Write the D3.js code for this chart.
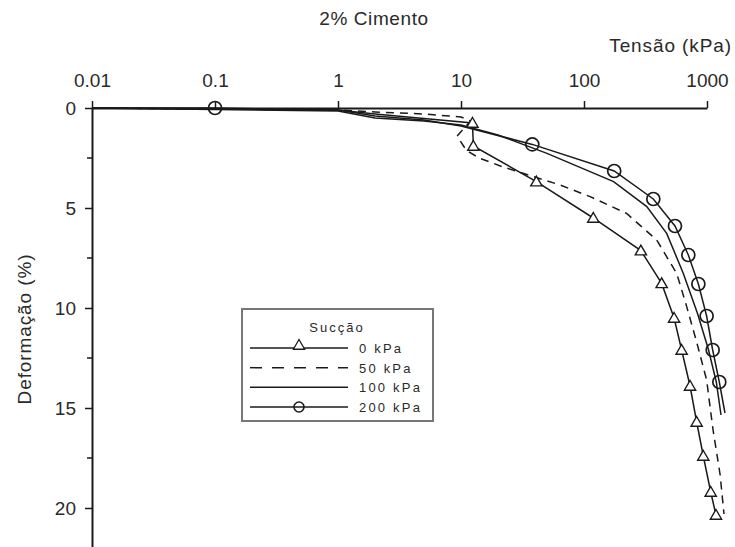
<!DOCTYPE html>
<html>
<head>
<meta charset="utf-8">
<script src="https://cdn.jsdelivr.net/npm/d3@7"></script>
<style>
  body { margin: 0; background: #fff; }
  svg { display: block; font-family: "Liberation Sans", Arial, sans-serif; }
</style>
</head>
<body>
<svg id="chart" width="735" height="547"></svg>
<script>
// tensão (kPa), deformação (%)
const s0 = [[0.01, 0], [1, 0.1], [2, 0.3], [12.4, 0.75], [12.6, 1.9], [41, 3.68], [119, 5.5], [290, 7.13],
  [428, 8.77], [540, 10.5], [622, 12.1], [728, 13.9], [824, 15.7], [933, 17.4], [1072, 19.2], [1183, 20.35]];
const s50 = [[0.01, 0], [1, 0.1], [2, 0.2], [5, 0.3], [10, 0.45], [12, 0.65], [9.3, 1.4], [11, 2.1], [14, 2.5],
  [22, 2.95], [64, 3.85], [112, 4.43], [222, 5.27], [390, 6.6], [567, 8.27], [684, 9.93], [824, 11.7],
  [993, 13.6], [1120, 16.1], [1276, 18.3], [1375, 20.3]];
const s100 = [[0.01, 0], [1, 0.15], [2, 0.5], [5, 0.65], [10, 0.85], [20, 1.35], [50, 2.27], [174, 3.68],
  [324, 4.93], [470, 6.27], [642, 8.27], [840, 10.3], [1030, 12.1], [1190, 13.7], [1300, 15.35]];
const s200 = [[0.01, 0], [0.1, 0], [1, 0.1], [2, 0.4], [5, 0.6], [10, 0.9], [38, 1.82], [176, 3.15],
  [366, 4.55], [549, 5.9], [705, 7.35], [851, 8.8], [993, 10.4], [1112, 12.1], [1259, 13.7], [1400, 15.25]];

// points without a visible marker
const noMark0 = [0, 1, 2];
const noMark200 = [0, 2, 3, 4, 5, 15];

const xTicks = [0.01, 0.1, 1, 10, 100, 1000];
const xTickLabels = ["0.01", "0.1", "1", "10", "100", "1000"];
const yTicks = [0, 5, 10, 15, 20];
const yMinor = [2.5, 7.5, 12.5, 17.5];
const legendNames = ["0 kPa", "50 kPa", "100 kPa", "200 kPa"];

const svg = d3.select("#chart");
const ink = "#1a1a1a";
const textCol = "#2a2a2a";
const font = "Liberation Sans, Arial, sans-serif";

const x = d3.scaleLog().domain([0.01, 1000]).range([92, 707]);
const y = d3.scaleLinear().domain([0, 22]).range([108, 548]);

// title and axis labels
svg.append("text").attr("x", 374).attr("y", 25).attr("text-anchor", "middle")
  .attr("font-size", 19).attr("letter-spacing", 0.6).attr("fill", textCol).text("2% Cimento");
svg.append("text").attr("x", 732).attr("y", 52).attr("text-anchor", "end")
  .attr("font-size", 19).attr("letter-spacing", 0.9).attr("fill", textCol).text("Tensão (kPa)");
svg.append("text").attr("transform", "translate(31,329) rotate(-90)").attr("text-anchor", "middle")
  .attr("font-size", 19).attr("letter-spacing", 0.9).attr("fill", textCol).text("Deformação (%)");

// x axis on top
const xAxis = svg.append("g").attr("transform", `translate(0,${y(0)})`)
  .call(d3.axisTop(x).tickValues(xTicks).tickFormat((d, i) => xTickLabels[i]).tickSize(7).tickSizeOuter(0));
xAxis.select(".domain").attr("stroke", ink).attr("stroke-width", 2);
xAxis.selectAll(".tick line").attr("stroke", ink).attr("stroke-width", 1.5);
xAxis.selectAll(".tick text").attr("font-size", 19).attr("fill", textCol)
  .attr("y", -21).attr("dy", 0).attr("font-family", font);

// y axis
const yAxis = svg.append("g").attr("transform", `translate(${x(0.01)},0)`)
  .call(d3.axisLeft(y).tickValues(yTicks).tickSize(7).tickSizeOuter(0).tickPadding(9));
yAxis.select(".domain").attr("stroke", ink).attr("stroke-width", 2);
yAxis.selectAll(".tick line").attr("stroke", ink).attr("stroke-width", 1.5);
yAxis.selectAll(".tick text").attr("font-size", 19).attr("fill", textCol).attr("font-family", font);
yAxis.selectAll(".minor").data(yMinor).enter().append("line")
  .attr("x1", -5).attr("x2", 0).attr("y1", d => y(d)).attr("y2", d => y(d))
  .attr("stroke", ink).attr("stroke-width", 1.5);

const line = d3.line().x(d => x(d[0])).y(d => y(d[1]));
const plot = svg.append("g");

function drawLine(data, dash) {
  plot.append("path").datum(data).attr("d", line).attr("fill", "none")
    .attr("stroke", ink).attr("stroke-width", 1.5)
    .attr("stroke-dasharray", dash || null);
}
drawLine(s100);
drawLine(s50, "8,6");
drawLine(s200);
drawLine(s0);

const tri = d3.symbol().type(d3.symbolTriangle).size(55);

function triangles(g, data) {
  g.selectAll(null).data(data).enter().append("path")
    .attr("d", tri)
    .attr("transform", d => `translate(${x(d[0])},${y(d[1]) + 1})`)
    .attr("fill", "#fff").attr("stroke", ink).attr("stroke-width", 1.4);
}
function circles(g, data) {
  g.selectAll(null).data(data).enter().append("circle")
    .attr("cx", d => x(d[0])).attr("cy", d => y(d[1])).attr("r", 6.5)
    .attr("fill", "none").attr("stroke", ink).attr("stroke-width", 1.7);
}
triangles(plot, s0.filter((d, i) => !noMark0.includes(i)));
circles(plot, s200.filter((d, i) => !noMark200.includes(i)));

// legend
const lg = svg.append("g");
lg.append("rect").attr("x", 242).attr("y", 309).attr("width", 191).attr("height", 112)
  .attr("fill", "#fff").attr("stroke", "#777").attr("stroke-width", 2);
lg.append("text").attr("x", 337).attr("y", 332).attr("text-anchor", "middle")
  .attr("font-size", 13).attr("letter-spacing", 2).attr("fill", textCol).text("Sucção");
const rowY = d3.scalePoint().domain(legendNames).range([348, 407]);
const dashes = [null, "12,10", null, null];
legendNames.forEach((name, i) => {
  const yy = rowY(name);
  lg.append("line").attr("x1", 250).attr("x2", 348).attr("y1", yy).attr("y2", yy)
    .attr("stroke", ink).attr("stroke-width", 1.5).attr("stroke-dasharray", dashes[i]);
  lg.append("text").attr("x", 359).attr("y", yy + 5).attr("font-size", 13)
    .attr("letter-spacing", 2.2).attr("fill", textCol).text(name);
});
lg.append("path").attr("d", tri).attr("transform", `translate(299,${rowY("0 kPa") - 2})`)
  .attr("fill", "#fff").attr("stroke", ink).attr("stroke-width", 1.3);
lg.append("circle").attr("cx", 299).attr("cy", rowY("200 kPa")).attr("r", 5)
  .attr("fill", "none").attr("stroke", ink).attr("stroke-width", 1.6);
</script>
</body>
</html>
